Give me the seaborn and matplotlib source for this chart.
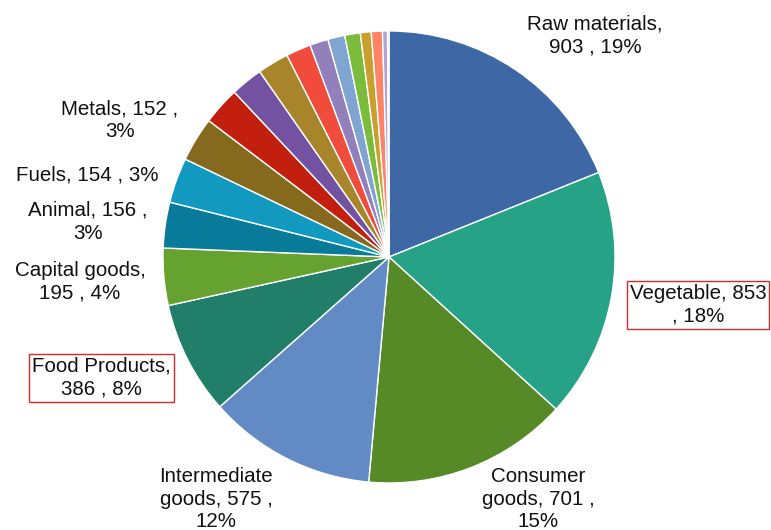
import matplotlib
matplotlib.use("Agg")
import matplotlib.pyplot as plt
import seaborn as sns

# Trade by product group (labelled groups first, then the smaller sectors)
categories = [
    "Raw materials", "Vegetable", "Consumer goods", "Intermediate goods",
    "Food Products", "Capital goods", "Animal", "Fuels", "Metals",
    "Chemicals", "Mach and Elec", "Minerals", "Textiles and Clothing",
    "Plastic or Rubber", "Transportation", "Miscellaneous", "Wood",
    "Stone and Glass", "Hides and Skins", "Footwear",
]
values = [903, 853, 701, 575, 386, 195, 156, 154, 152,
          129, 110, 107, 85, 63, 58, 53, 37, 38, 17, 5]

# Display text for the labelled slices: wrapped name and separators
display_names = ["Raw materials", "Vegetable", "Consumer\ngoods", "Intermediate\ngoods",
                 "Food Products", "Capital goods", "Animal", "Fuels", "Metals"]
name_seps = ["\n", " ", " ", " ", "\n", "\n", " ", " ", " "]
value_seps = [" , ", "\n, ", " ,\n", " ,\n", " , ", " , ", " ,\n", " , ", " ,\n"]
boxed = ["Vegetable", "Food Products"]

colors = [
    "#3E68A5", "#26A387", "#568A27", "#628BC5", "#207E69", "#66A22F",
    "#077B99", "#1199BF", "#856A1E", "#C21F0F", "#7353A1", "#A8852A",
    "#F04B3B", "#9380BA", "#80A5D2", "#7CBC3C", "#C99F2E", "#FF8467",
    "#B2A3D3", "#4FC8E6",
]

sns.set_theme(style="white")
plt.rcParams["font.family"] = ["Liberation Sans", "DejaVu Sans"]

fig = plt.figure(figsize=(7.71, 5.30), dpi=100)
ax = fig.add_axes([0, 0, 1, 1])

ax.pie(values, colors=colors, startangle=90, counterclock=False,
       wedgeprops=dict(edgecolor="white", linewidth=1.0))

ax.set_xlim(-1.721, 1.690)
ax.set_ylim(-1.208, 1.137)
ax.set_aspect("equal")
ax.axis("off")

total = sum(values)
# label anchor positions in pie-radius units
label_pos = [(0.912, 0.978), (1.367, -0.212), (0.659, -1.071), (-0.765, -1.071),
             (-1.274, -0.535), (-1.367, -0.110), (-1.332, 0.155), (-1.336, 0.363),
             (-1.190, 0.604)]

for i, (x, y) in enumerate(label_pos):
    pct = round(values[i] / total * 100)
    text = f"{display_names[i]},{name_seps[i]}{values[i]}{value_seps[i]}{pct}%"
    kw = {}
    if categories[i] in boxed:
        kw["bbox"] = dict(boxstyle="square,pad=0.15", facecolor="white",
                          edgecolor="#D42A2A", linewidth=1.0)
    ax.text(x, y, text, ha="center", va="center", fontsize=14.8,
            color="#111111", linespacing=1.26, **kw)

fig.savefig("out.png", dpi=100)
